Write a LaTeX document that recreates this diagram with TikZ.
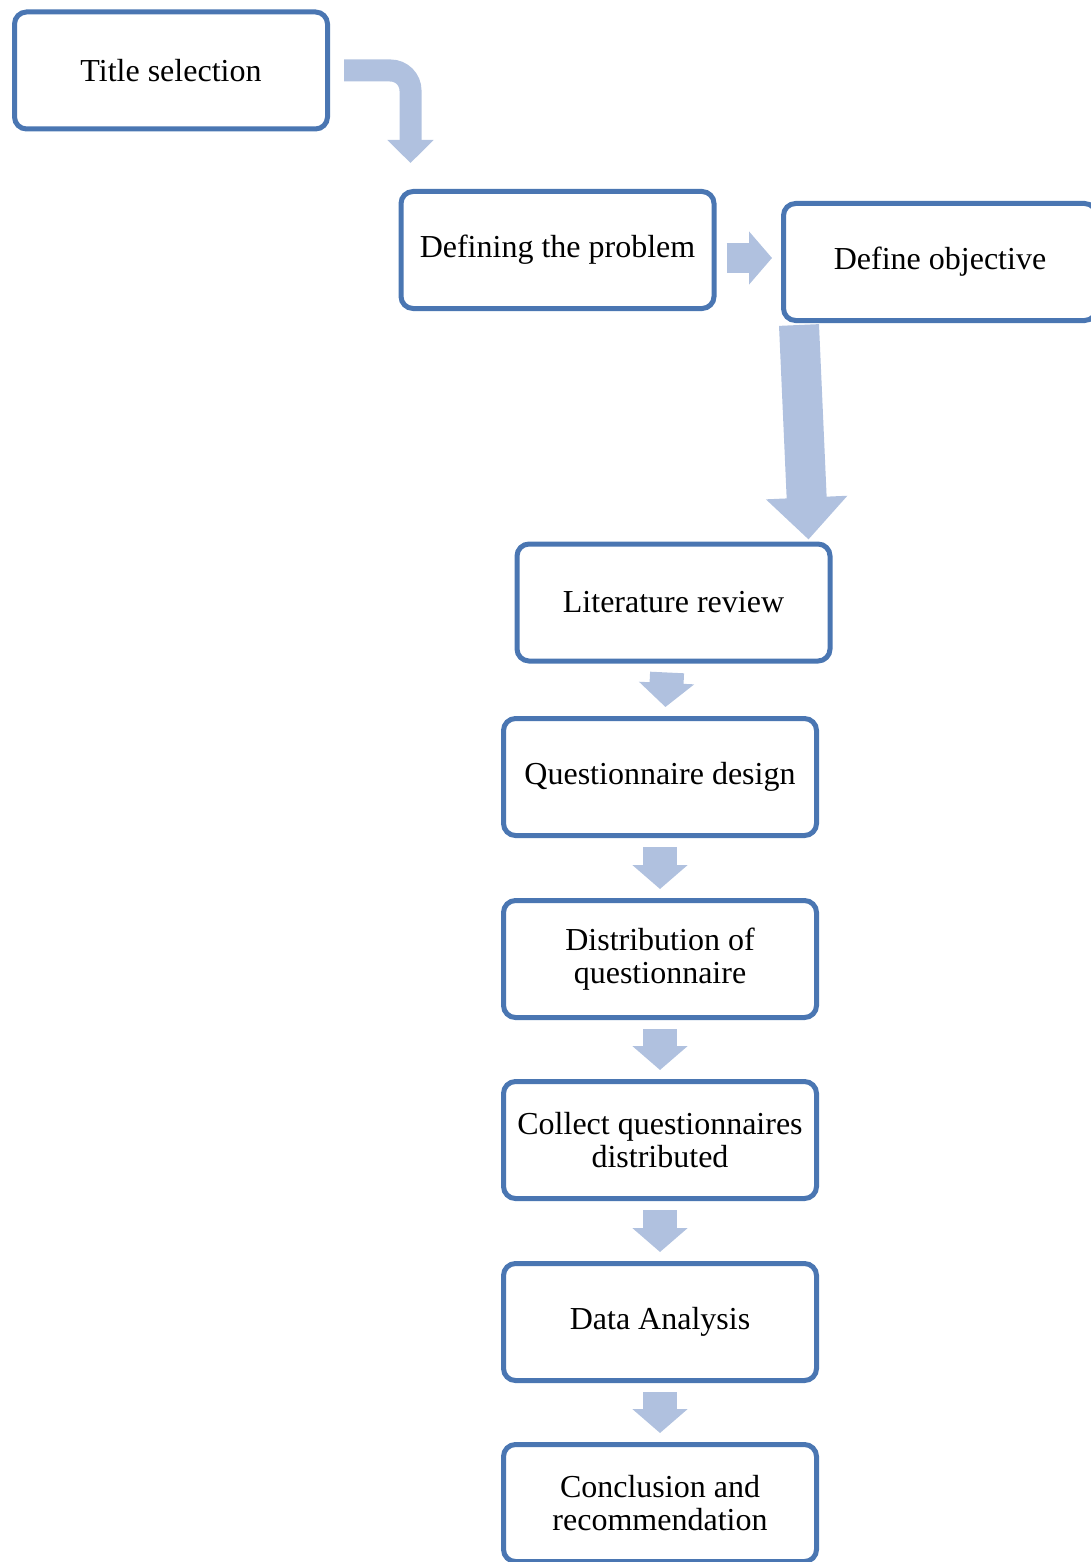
\documentclass[tikz,border=0pt]{standalone}
\usepackage{fontspec}
\setmainfont{Liberation Serif}
\usetikzlibrary{arrows.meta}

\definecolor{boxline}{RGB}{74,118,178}
\definecolor{flowfill}{RGB}{176,193,223}

\tikzset{
  stepbox/.style={rectangle, rounded corners=12pt, draw=boxline, line width=5pt, fill=white, minimum width=313pt, minimum height=117pt, align=center, font=\fontsize{32}{33}\selectfont},
  flow/.style={draw=flowfill, line width=34pt, -{Triangle[length=24pt,width=54pt]}, shorten <=9pt, shorten >=9pt}
}

\begin{document}
\begin{tikzpicture}[x=1pt, y=-1pt]
\useasboundingbox (0,0) rectangle (1090,1562);

\draw (171,70.5) node (title) [stepbox] {Title selection};
\draw (557.5,250) node (prob) [stepbox] {Defining the problem};
\draw (940,262) node (obj) [stepbox] {Define objective};

\draw (673.5,602.5) node (lit) [stepbox] {Literature review};
\draw (660,777) node (qd) [stepbox] {Questionnaire design};
\draw (660,959) node (dist) [stepbox] {Distribution of\\questionnaire};
\draw (660,1140) node (coll) [stepbox] {Collect questionnaires\\distributed};
\draw (660,1322) node (data) [stepbox] {Data Analysis};
\draw (660,1503) node (concl) [stepbox] {Conclusion and\\recommendation};

\draw [flow, line width=22pt, -{Triangle[length=23pt,width=45pt]}, rounded corners=20pt, shorten <=0pt, shorten >=0pt] ([xshift=14pt]title.east) -| ([xshift=-147pt, yshift=26pt]prob.north);

\draw [flow, line width=30pt, -{Triangle[length=23pt,width=52pt]}, shorten <=0pt, shorten >=0pt] ([xshift=10pt,yshift=-8pt]prob.east) -- ([xshift=-9pt,yshift=4pt]obj.west);

\draw [flow, line width=40pt, -{Triangle[length=42pt,width=79pt]}, shorten <=0pt, shorten >=0pt] ([xshift=18pt,yshift=-2pt]obj.south west) -- ([xshift=-24pt,yshift=2pt]lit.north east);

\draw [flow] ([xshift=-6pt]lit.south) -- ([xshift=5pt]qd.north);
\draw [flow] (qd.south) -- (dist.north);
\draw [flow] (dist.south) -- (coll.north);
\draw [flow] (coll.south) -- (data.north);
\draw [flow] (data.south) -- (concl.north);

\end{tikzpicture}
\end{document}
